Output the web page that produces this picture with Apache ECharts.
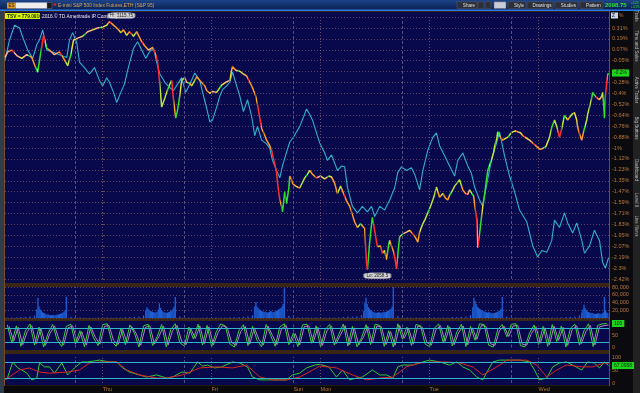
<!DOCTYPE html>
<html><head><meta charset="utf-8">
<script src="https://cdn.jsdelivr.net/npm/echarts@6.0.0/dist/echarts.min.js"></script>
<style>html,body{margin:0;padding:0;background:#141414;overflow:hidden}#chart{width:640px;height:393px}</style>
</head><body><div id="chart"></div>
<script>
// ---------- DATA ----------
// time axis in hours from Thursday 00:00 (weekend compressed)
const timeMin = -21.5, timeMax = 111.5;
const dayStartHours = [0, 24, 48, 72, 96];
const sessionOpenHours = [-6, 18, 42, 66, 90];
const dayLabelHours = [0, 24, 42, 48, 72, 96];
const dayLabels = ['Thu', 'Fri', 'Sun', 'Mon', 'Tue', 'Wed'];

// right % axis
const pctMin = -2.42, pctStep = 0.1187;
const pctTickLabels = ['-2.42%','-2.3%','-2.19%','-2.07%','-1.95%','-1.83%','-1.71%','-1.59%','-1.47%','-1.35%','-1.23%','-1.12%','-1%','-0.88%','-0.76%','-0.64%','-0.52%','-0.4%','-0.28%','-0.17%','-0.05%','0.07%','0.19%','0.31%',''];

// ES futures % change [hour, %]
const esPct = [[-21.5,-0.01],[-20.9,0.05],[-20.0,0.07],[-18.9,0.01],[-17.8,-0.02],[-16.7,0.02],[-15.6,-0.01],[-15.0,-0.09],[-14.3,-0.17],[-13.7,0.02],[-13.0,0.23],[-12.3,0.09],[-11.7,0.07],[-10.6,0.02],[-9.5,0.05],[-8.6,-0.02],[-7.7,-0.10],[-7.0,0.02],[-6.4,0.18],[-5.5,0.20],[-4.4,0.22],[-3.3,0.27],[-2.2,0.29],[-1.1,0.31],[0,0.32],[0.9,0.34],[1.5,0.38],[2.2,0.35],[3.1,0.31],[4.0,0.26],[4.6,0.29],[5.3,0.23],[5.9,0.27],[6.8,0.22],[7.5,0.27],[8.4,0.18],[9.2,0.12],[10.1,0.07],[11.0,0.10],[11.7,0.02],[12.1,-0.06],[12.6,-0.31],[13.0,-0.55],[13.7,-0.45],[14.1,-0.39],[14.8,-0.30],[15.2,-0.26],[15.6,-0.47],[16.1,-0.67],[16.5,-0.58],[17.0,-0.42],[17.4,-0.26],[18.1,-0.23],[18.5,-0.28],[19.2,-0.29],[19.6,-0.32],[20.3,-0.26],[20.7,-0.22],[21.4,-0.26],[21.8,-0.28],[22.5,-0.32],[22.9,-0.37],[23.6,-0.40],[24.2,-0.38],[25.1,-0.39],[25.8,-0.34],[26.2,-0.31],[27.1,-0.28],[28.0,-0.26],[28.4,-0.15],[28.6,-0.11],[29.3,-0.15],[30.2,-0.16],[31.0,-0.19],[31.7,-0.21],[32.4,-0.28],[33.0,-0.34],[33.7,-0.43],[34.1,-0.52],[34.6,-0.67],[35.0,-0.78],[35.7,-0.86],[36.1,-0.91],[36.8,-0.97],[37.2,-1.02],[37.7,-1.13],[37.9,-1.17],[38.3,-1.26],[38.5,-1.37],[39.0,-1.56],[39.4,-1.63],[39.6,-1.69],[40.1,-1.47],[40.5,-1.60],[41.0,-1.43],[41.2,-1.30],[41.6,-1.34],[41.8,-1.38],[42.5,-1.41],[43.4,-1.43],[44.0,-1.37],[44.5,-1.32],[45.1,-1.28],[45.6,-1.24],[46.2,-1.28],[47.1,-1.32],[48.0,-1.30],[48.9,-1.33],[49.8,-1.30],[50.4,-1.31],[51.1,-1.38],[51.7,-1.49],[52.4,-1.41],[52.8,-1.43],[53.3,-1.52],[53.7,-1.57],[54.4,-1.63],[54.8,-1.69],[55.5,-1.80],[56.1,-1.86],[56.8,-1.82],[57.7,-1.87],[58.1,-2.24],[58.3,-2.32],[58.8,-2.02],[59.2,-1.83],[59.4,-1.75],[59.9,-1.89],[60.5,-2.07],[61.2,-2.06],[61.6,-2.14],[62.1,-2.11],[62.5,-2.21],[63.0,-2.04],[63.2,-2.00],[63.6,-2.06],[64.1,-2.13],[64.5,-2.24],[64.7,-2.31],[65.2,-2.05],[65.4,-1.96],[66.1,-1.93],[66.9,-1.91],[67.6,-1.89],[68.3,-1.93],[68.9,-1.97],[69.4,-2.02],[69.8,-1.91],[70.5,-1.82],[71.1,-1.76],[71.6,-1.70],[72.2,-1.63],[72.7,-1.56],[73.1,-1.50],[73.5,-1.42],[74.2,-1.53],[74.9,-1.49],[75.5,-1.54],[76.0,-1.56],[76.4,-1.51],[77.1,-1.45],[77.5,-1.41],[78.0,-1.38],[78.6,-1.34],[79.3,-1.45],[79.9,-1.49],[80.4,-1.50],[80.8,-1.45],[81.2,-1.45],[81.7,-1.52],[81.9,-1.60],[82.4,-1.78],[82.6,-2.08],[83.0,-1.93],[83.5,-1.71],[84.1,-1.50],[84.8,-1.24],[85.2,-1.18],[85.6,-1.13],[86.1,-1.04],[86.3,-0.98],[86.8,-0.89],[87.0,-0.82],[87.6,-0.88],[88.1,-0.91],[88.7,-0.89],[89.2,-0.88],[89.8,-0.84],[90.3,-0.82],[90.9,-0.81],[91.4,-0.82],[92.0,-0.83],[92.5,-0.86],[93.4,-0.89],[94.0,-0.91],[94.7,-0.94],[95.6,-0.98],[96.3,-1.01],[96.9,-1.00],[97.6,-0.98],[98.0,-0.96],[98.4,-0.88],[98.9,-0.77],[99.5,-0.69],[100.0,-0.76],[100.6,-0.88],[101.1,-0.78],[101.7,-0.64],[102.4,-0.69],[102.8,-0.67],[103.3,-0.63],[103.9,-0.61],[104.4,-0.69],[104.6,-0.77],[105.0,-0.84],[105.5,-0.91],[105.9,-0.82],[106.6,-0.69],[106.8,-0.63],[107.2,-0.55],[107.7,-0.45],[107.9,-0.39],[108.3,-0.42],[108.8,-0.45],[109.4,-0.47],[109.9,-0.43],[110.1,-0.39],[110.3,-0.50],[110.5,-0.67],[110.7,-0.43],[111.0,-0.28],[111.2,-0.20],[111.4,-0.18]];

// comparison symbol (cyan) % change [hour, %]
const cmpPct = [[-21.5,-0.04],[-20.5,0.18],[-19.4,0.34],[-18.3,0.31],[-17.6,0.21],[-16.5,0.07],[-15.4,-0.02],[-14.5,0.13],[-13.9,0.18],[-13.2,0.29],[-12.3,0.07],[-11.0,0.05],[-9.5,0.02],[-7.9,-0.01],[-7.3,0.18],[-6.6,0.26],[-5.7,0.15],[-5.1,-0.06],[-4.0,-0.12],[-2.9,-0.19],[-1.8,-0.12],[-0.7,-0.26],[0,-0.32],[0.9,-0.23],[1.5,-0.28],[2.4,-0.39],[3.1,-0.50],[4.0,-0.39],[4.8,-0.30],[5.5,-0.15],[6.2,-0.02],[6.8,0.09],[7.7,0.16],[8.6,0.07],[9.5,-0.02],[10.3,0.05],[11.2,0.09],[11.9,-0.06],[12.6,-0.19],[13.7,-0.28],[14.8,-0.34],[15.6,-0.37],[16.5,-0.30],[17.4,-0.23],[18.3,-0.39],[19.2,-0.30],[20.3,-0.18],[21.4,-0.26],[22.0,-0.39],[22.9,-0.56],[23.6,-0.71],[24.2,-0.69],[25.1,-0.55],[25.8,-0.43],[26.4,-0.36],[27.3,-0.32],[28.0,-0.28],[28.6,-0.17],[29.5,-0.32],[30.2,-0.43],[31.0,-0.60],[31.9,-0.47],[32.8,-0.65],[33.5,-0.86],[34.1,-0.76],[35.0,-0.91],[36.1,-0.95],[36.8,-1.00],[37.4,-1.13],[38.3,-1.24],[39.0,-1.32],[39.6,-1.19],[40.5,-1.04],[41.2,-0.93],[42.1,-0.87],[43.4,-0.76],[44.3,-0.65],[44.9,-0.57],[45.6,-0.63],[46.2,-0.69],[46.9,-0.80],[47.8,-0.94],[48.9,-1.05],[49.5,-1.13],[50.4,-1.07],[51.1,-1.16],[51.7,-1.24],[52.6,-1.19],[53.3,-1.20],[53.9,-1.42],[55.0,-1.63],[56.1,-1.70],[57.2,-1.63],[58.3,-1.69],[59.2,-1.63],[59.9,-1.74],[61.0,-1.63],[62.1,-1.67],[63.2,-1.56],[64.3,-1.43],[65.0,-1.26],[65.8,-1.20],[66.9,-1.24],[68.0,-1.21],[68.7,-1.28],[69.8,-1.45],[70.5,-1.24],[71.6,-1.02],[72.7,-0.88],[73.5,-0.83],[74.2,-0.97],[75.3,-1.08],[76.4,-1.19],[77.5,-1.30],[78.2,-1.13],[79.3,-1.05],[80.4,-1.19],[81.2,-1.27],[81.9,-1.42],[83.0,-1.56],[83.7,-1.63],[84.5,-1.41],[85.6,-1.13],[86.8,-0.93],[87.4,-0.82],[88.5,-1.08],[89.6,-1.30],[90.7,-1.47],[91.8,-1.67],[93.4,-1.80],[94.7,-2.06],[95.8,-2.18],[96.7,-2.11],[97.8,-2.13],[98.9,-2.00],[99.5,-1.78],[100.6,-1.86],[101.7,-1.70],[102.4,-1.81],[103.5,-1.92],[104.4,-1.81],[105.5,-2.00],[106.1,-2.14],[107.2,-2.06],[108.3,-1.89],[109.4,-2.00],[110.1,-2.24],[110.7,-2.30],[111.4,-2.19]];

const hiLabel = 'Hi: 2115.75';
const loLabel = 'Lo: 2058.5';
const lastPctLabel = '-0.2%';
const lastPrice = '2098.75';
const tsvLabel = 'TSV = 779.0916';

// volume: regular-session 15-minute bars and overnight hourly bars
const rthOpenHours = [-14.5, 9.5, 33.5, 57.5, 81.5, 105.5];
const rthVolumes = [
  [22000,52000,30000,22000,18000,15000,13000,12000,10000,9000,9000,8000,7000,7000,8000,7000,7000,8000,9000,9000,10000,11000,12000,14000,16000,20000,55000],
  [20000,28000,24000,20000,18000,17000,16000,15000,14000,15000,16000,22000,38000,26000,20000,17000,15000,14000,13000,14000,15000,16000,18000,20000,24000,30000,54000],
  [30000,41000,30000,26000,22000,20000,18000,17000,16000,16000,15000,15000,14000,16000,18000,16000,15000,16000,17000,18000,20000,22000,24000,26000,30000,36000,77000],
  [18000,40000,52000,36000,28000,24000,20000,18000,16000,15000,14000,13000,14000,15000,14000,13000,14000,15000,16000,15000,16000,18000,20000,22000,24000,30000,80000],
  [28000,52000,44000,36000,30000,26000,24000,22000,20000,18000,17000,16000,15000,14000,15000,14000,13000,12000,12000,13000,14000,15000,16000,18000,20000,24000,54000],
  [14000,22000,34000,26000,20000,17000,15000,14000,13000,12000,12000,11000,10000,11000,12000,12000,11000,10000,12000,14000,54000,18000,14000,12000]
];
const overnightStartHours = [-21, -7, 17, 41, 65, 89];
const overnightVolumes = [
  [1200,1500,1800,2400,3000,3600,6000],
  [3500,1800,1200,1000,900,800,1100,1400,1300,1200,1100,1500,2000,2500,3000,3600,6500],
  [4000,2000,1400,1100,900,800,1200,1600,1500,1300,1200,1700,2200,2800,3200,4000,7000],
  [5000,2500,1800,1300,1000,900,1100,1500,1400,1200,1100,1600,2400,3000,3400,4200,7500],
  [4200,2000,1500,1200,1000,900,1200,1500,1400,1300,1200,1600,2300,2900,3300,4100,7200],
  [3800,1900,1400,1100,900,800,1100,1400,1300,1200,1100,1500,2100,2700,3100,3900,6800]
];

// fast stochastic (hourly from osc1Start)
const osc1Start = -21;
const osc1K = [95,20,90,5,70,98,10,85,2,60, 96,30,4,88,97,15,70,3,92,40, 8,95,99,25,5,80,12,94,60,2, 90,97,8,45,96,3,75,99,20,6, 85,35,97,10,92,4,65,98,90,15, 2,70,95,8,88,30,3,96,50,5, 85,99,12,60,4,94,97,18,90,2, 75,96,10,55,98,6,88,3,40,95, 12,97,92,5,70,2,99,35,85,8, 96,90,15,3,80,98,20,92,6,65, 97,4,88,30,99,95,10,2,75,96, 45,97,99,8,3,60,94,12,88,5, 96,25,90,2,80,97,10,70,99,4, 92,98,100];
const osc1D = [88,26,84,12,66,91,16,79,9,58, 90,34,10,82,90,21,66,10,86,42, 14,88,92,30,12,75,18,87,58,9, 84,90,14,46,89,10,71,92,25,12, 79,38,90,16,86,11,62,91,84,21, 9,66,88,14,82,34,10,89,50,12, 79,92,18,58,11,87,90,23,84,9, 71,89,16,54,91,12,82,10,42,88, 18,90,86,12,66,9,92,38,79,14, 89,84,21,10,75,91,25,86,12,62, 90,11,82,34,92,88,16,9,71,89, 46,90,92,14,10,58,87,18,82,12, 89,30,84,9,75,90,16,66,92,11, 86,91,94];

// slow oscillator [hour, value]
const osc2Fast = [[-21.5,12],[-20.9,23],[-19.8,81],[-18.7,58],[-17.8,50],[-16.7,38],[-15.6,12],[-14.5,19],[-13.9,77],[-12.8,62],[-11.7,62],[-10.6,38],[-9.0,77],[-7.7,31],[-6.2,58],[-4.6,81],[-3.3,81],[-0.7,88],[1.5,81],[3.1,81],[4.4,58],[5.9,42],[8.1,31],[9.7,23],[11.9,31],[14.1,19],[15.4,23],[17.4,42],[19.2,38],[20.9,81],[22.0,65],[23.1,69],[24.7,58],[26.2,62],[28.6,81],[30.2,77],[31.9,62],[33.0,23],[34.6,12],[36.1,12],[37.4,12],[39.0,12],[40.5,12],[41.8,31],[43.4,38],[44.9,58],[46.7,69],[47.8,72],[49.8,62],[51.5,23],[52.8,50],[54.4,12],[55.9,19],[57.2,23],[59.4,50],[61.0,31],[62.5,31],[63.9,19],[65.0,62],[66.1,69],[68.3,69],[70.5,81],[72.0,88],[74.2,81],[76.4,69],[78.0,81],[79.3,62],[80.8,50],[82.4,23],[83.7,12],[84.5,38],[85.9,81],[87.4,88],[89.6,88],[91.8,88],[94.0,81],[95.1,50],[96.2,12],[97.8,19],[99.1,62],[100.6,77],[102.1,81],[103.5,69],[105.5,50],[106.8,81],[108.3,77],[109.4,58],[110.5,81],[111.4,67.0958]];
const osc2Slow = [[-21.5,12],[-18.3,50],[-16.1,58],[-13.9,42],[-11.7,38],[-7.9,42],[-5.1,50],[-2.9,77],[-0.7,81],[3.1,81],[5.3,50],[8.1,31],[11.9,19],[14.1,19],[17.6,31],[21.4,58],[25.1,62],[28.6,58],[31.7,69],[34.6,23],[37.4,12],[40.5,12],[43.4,23],[47.1,58],[47.8,65],[51.5,58],[55.0,31],[58.1,12],[61.0,19],[63.9,23],[66.9,62],[69.8,77],[72.7,81],[75.8,81],[78.6,77],[81.5,62],[83.7,31],[86.8,62],[89.0,88],[93.4,88],[95.6,69],[97.8,23],[100.0,50],[102.1,69],[105.7,62],[107.9,62],[110.5,77],[111.4,75]];
const oscLevels = [80, 20];

// ---------- BUILD ----------
const volBars = [];
rthOpenHours.forEach((h0, s) => rthVolumes[s].forEach((v, i) => volBars.push([h0 + 0.25 * i, v])));
overnightStartHours.forEach((h0, s) => overnightVolumes[s].forEach((v, i) => volBars.push([h0 + i, v])));
const osc1KData = osc1K.map((v, i) => [osc1Start + i, v]);
const osc1DData = osc1D.map((v, i) => [osc1Start + i + 0.4, v]);

const FONT = 'Liberation Sans, Arial, sans-serif';
const AXIS_TXT = '#b8773c';

// price line colour: hard-stop gradient coloured by each segment's direction, speckled like the bar colouring
const upStrong = '#2fe02f', upMild = '#b6e63a', flatA = '#f0dc3a', flatB = '#ffb08a', dnMild = '#ff9a22', dnStrong = '#ff2e2e';
const altColor = {};
altColor[upStrong] = '#e6e23a'; altColor[upMild] = '#2fd83a'; altColor[flatA] = '#ff7a2a';
altColor[flatB] = '#38d838'; altColor[dnMild] = '#ff3434'; altColor[dnStrong] = '#ffb020';
const h0 = esPct[0][0], hSpan = esPct[esPct.length - 1][0] - h0;
const stops = [];
for (let i = 1; i < esPct.length; i++) {
  const a = esPct[i - 1], b = esPct[i];
  const s = (b[1] - a[1]) / (b[0] - a[0]);
  const c = s > 0.2 ? upStrong : s > 0.04 ? upMild : s < -0.2 ? dnStrong : s < -0.04 ? dnMild : (i % 2 ? flatA : flatB);
  const o1 = (a[0] - h0) / hSpan, o2 = (b[0] - h0) / hSpan, om = o1 + (o2 - o1) * 0.6;
  stops.push({offset: o1, color: c}, {offset: om, color: c});
  const c2 = (i % 3 === 0) ? altColor[c] : c;
  stops.push({offset: om, color: c2}, {offset: o2, color: c2});
}
const priceGradient = new echarts.graphic.LinearGradient(0, 0, 1, 0, stops);

function dayLines() {
  return dayStartHours.map(h => ({xAxis: h, lineStyle: {color: '#6e4c66', type: [1, 2], width: 1}}))
    .concat(sessionOpenHours.map(h => ({xAxis: h, lineStyle: {color: '#4e5280', type: [3, 2], width: 1}})));
}
function levelLines() {
  return oscLevels.map(v => ({yAxis: v, lineStyle: {color: '#2fb6c9', type: 'solid', width: 1}}));
}
function guideSeries(idx, extra) {
  return {type: 'line', xAxisIndex: idx, yAxisIndex: idx, data: [], z: 1, silent: true,
    markLine: {silent: true, symbol: ['none', 'none'], label: {show: false}, animation: false,
      data: dayLines().concat(extra || [])}};
}
function lastBox(text) {
  return {silent: true, symbol: ['none', 'none'], animation: false,
    lineStyle: {color: 'rgba(0,0,0,0)', width: 0, type: 'solid'},
    label: {show: true, position: 'end', distance: 3, formatter: text, backgroundColor: '#1ed41e', color: '#052a05',
      fontSize: 5, fontFamily: FONT, padding: [1, 2]}};
}

const L = 5, W = 604;
const grids = [
  {left: L, width: W, top: 17.1, height: 261.9},
  {left: L, width: W, top: 287, height: 31},
  {left: L, width: W, top: 323.5, height: 24},
  {left: L, width: W, top: 357, height: 26}
].map(g => Object.assign(g, {containLabel: false, outerBoundsMode: 'none'}));

function xAx(i, extra) {
  return Object.assign({gridIndex: i, type: 'value', min: timeMin, max: timeMax,
    axisLine: {show: false}, axisTick: {show: false}, splitLine: {show: false}, axisLabel: {show: false}}, extra || {});
}
const yLabelBase = {color: AXIS_TXT, fontSize: 5.5, fontFamily: FONT, margin: 3};

const g = [];
// backgrounds
g.push({type: 'rect', z: -20, shape: {x: 0, y: 0, width: 640, height: 10},
  style: {fill: new echarts.graphic.LinearGradient(0, 0, 0, 1, [{offset: 0, color: '#1d4488'}, {offset: 1, color: '#0a1f50'}])}});
g.push({type: 'rect', z: -19, shape: {x: 0, y: 9.5, width: 640, height: 1.5}, style: {fill: '#2a7ae8'}});
g.push({type: 'rect', z: -20, shape: {x: 0, y: 11, width: 4, height: 382}, style: {fill: '#2e3c4c'}});
g.push({type: 'rect', z: -20, shape: {x: 609, y: 11, width: 24, height: 382}, style: {fill: '#0b0b0f'}});
g.push({type: 'rect', z: -20, shape: {x: 4, y: 11, width: 605, height: 376}, style: {fill: '#3a2614'}});
[[12, 271], [287, 31], [321, 29], [354, 31]].forEach(p => {
  g.push({type: 'rect', z: -15, shape: {x: 5, y: p[0], width: 604, height: p[1]}, style: {fill: '#07094c'}});
});
g.push({type: 'rect', z: -15, shape: {x: 4, y: 385.5, width: 605, height: 8}, style: {fill: '#0a0a0a'}});
g.push({type: 'line', z: -10, shape: {x1: 609.5, y1: 11, x2: 609.5, y2: 386}, style: {stroke: '#7a4a22', lineWidth: 1}});
g.push({type: 'line', z: -10, shape: {x1: 4.5, y1: 11, x2: 4.5, y2: 386}, style: {stroke: '#7a4a22', lineWidth: 1}});
// sidebar
g.push({type: 'rect', z: -20, shape: {x: 633, y: 11, width: 7, height: 382}, style: {fill: '#222'}});
[['Trade', 16], ['Time and Sales', 46], ['Active Trader', 90], ['Big Buttons', 128], ['Dashboard', 170], ['Level II', 200], ['Live News', 226]].forEach(t => {
  g.push({type: 'text', z: 50, x: 636.5, y: t[1], rotation: -Math.PI / 2,
    style: {text: t[0], fontSize: 4.5, fontFamily: FONT, fill: '#bdbdbd', align: 'center', verticalAlign: 'middle'}});
});
// header
g.push({type: 'rect', z: 50, shape: {x: 7, y: 2.5, width: 9, height: 6}, style: {fill: '#d89a2c'}});
g.push({type: 'text', z: 51, x: 8.5, y: 5.6, style: {text: 'ES', fontSize: 4.5, fontFamily: FONT, fill: '#3a2000', verticalAlign: 'middle'}});
g.push({type: 'rect', z: 50, shape: {x: 16, y: 2.5, width: 31, height: 6}, style: {fill: '#eeeeee'}});
g.push({type: 'rect', z: 50, shape: {x: 47, y: 2.5, width: 5, height: 6}, style: {fill: '#1a1a1a', stroke: '#777', lineWidth: 0.5}});
g.push({type: 'circle', z: 50, shape: {cx: 55, cy: 4.5, r: 1.3}, style: {fill: '#e02020'}});
g.push({type: 'text', z: 51, x: 58, y: 5.6, style: {text: 'E-mini S&P 500 Index Futures,ETH (S&P 95)', fontSize: 4.8, fontFamily: FONT, fill: '#d9a45a', verticalAlign: 'middle'}});
[['Share', 457, 20], ['', 478, 6], ['', 485, 6], ['', 494, 12], ['Style', 508, 18], ['Drawings', 527, 26], ['Studies', 555, 23], ['Pattern', 580, 23]].forEach((b, i) => {
  g.push({type: 'rect', z: 50, shape: {x: b[1], y: 1.8, width: b[2], height: 6.8},
    style: {fill: i === 3 ? '#c9ccd6' : '#2c2e38', stroke: '#5a5d6a', lineWidth: 0.5}});
  if (b[0]) g.push({type: 'text', z: 51, x: b[1] + b[2] / 2 + 2, y: 5.3,
    style: {text: b[0], fontSize: 4.6, fontFamily: FONT, fill: '#e0e0e0', align: 'center', verticalAlign: 'middle'}});
});
g.push({type: 'text', z: 51, x: 605, y: 5.5, style: {text: lastPrice, fontSize: 6, fontWeight: 'bold', fontFamily: FONT, fill: '#2fe02f', verticalAlign: 'middle'}});
g.push({type: 'text', z: 51, x: 631, y: 3.3, style: {text: '+0.25', fontSize: 3, fontFamily: FONT, fill: '#2fe02f', verticalAlign: 'middle'}});
g.push({type: 'text', z: 51, x: 631, y: 7.3, style: {text: '+.01%', fontSize: 3, fontFamily: FONT, fill: '#2fe02f', verticalAlign: 'middle'}});
// in-chart legend
g.push({type: 'rect', z: 60, shape: {x: 5, y: 13, width: 35, height: 6}, style: {fill: '#d6f200'}});
g.push({type: 'text', z: 61, x: 7, y: 16.2, style: {text: tsvLabel, fontSize: 4.8, fontWeight: 'bold', fontFamily: FONT, fill: '#213000', verticalAlign: 'middle'}});
g.push({type: 'text', z: 61, x: 42, y: 16.2, style: {text: '2016 © TD Ameritrade IP Company', fontSize: 4.8, fontFamily: FONT, fill: '#e6e6e6', verticalAlign: 'middle'}});
g.push({type: 'rect', z: 60, shape: {x: 611, y: 12.5, width: 7, height: 6}, style: {fill: '#d0d4e0'}});
g.push({type: 'text', z: 61, x: 612, y: 15.6, style: {text: 'Z', fontSize: 5, fontWeight: 'bold', fontFamily: FONT, fill: '#204080', verticalAlign: 'middle'}});
g.push({type: 'text', z: 61, x: 619, y: 15.6, style: {text: '%', fontSize: 5, fontFamily: FONT, fill: AXIS_TXT, verticalAlign: 'middle'}});

const option = {
  animation: false,
  backgroundColor: '#141414',
  textStyle: {fontFamily: FONT},
  grid: grids,
  xAxis: [xAx(0), xAx(1), xAx(2), xAx(3, {axisLabel: {show: true, customValues: dayLabelHours,
    formatter: v => { const k = dayLabelHours.indexOf(v); return k >= 0 ? dayLabels[k] : ''; },
    color: AXIS_TXT, fontSize: 5.5, fontFamily: FONT, margin: 3, align: 'left'}})],
  yAxis: [
    {gridIndex: 0, type: 'value', position: 'right', min: pctMin, max: pctMin + 24 * pctStep, interval: pctStep,
      axisLine: {show: false}, axisTick: {show: true, length: 2, lineStyle: {color: '#7a4a22'}},
      splitLine: {show: true, lineStyle: {color: '#5e4262', type: [1, 2], width: 1}},
      axisLabel: Object.assign({}, yLabelBase, {showMaxLabel: true, showMinLabel: true,
        formatter: v => pctTickLabels[Math.round((v - pctMin) / pctStep)] || ''})},
    {gridIndex: 1, type: 'value', position: 'right', min: 0, max: 80000, interval: 20000,
      axisLine: {show: false}, axisTick: {show: false},
      splitLine: {show: true, lineStyle: {color: '#5e4262', type: [1, 2], width: 1}},
      axisLabel: Object.assign({}, yLabelBase, {formatter: v => v === 0 ? '' : v.toLocaleString('en-US')})},
    {gridIndex: 2, type: 'value', position: 'right', min: 0, max: 100, interval: 50,
      axisLine: {show: false}, axisTick: {show: false}, splitLine: {show: false},
      axisLabel: Object.assign({}, yLabelBase, {formatter: v => v === 100 ? '' : String(v)})},
    {gridIndex: 3, type: 'value', position: 'right', min: 0, max: 100, interval: 50,
      axisLine: {show: false}, axisTick: {show: false}, splitLine: {show: false},
      axisLabel: Object.assign({}, yLabelBase, {formatter: v => String(v)})}
  ],
  graphic: {elements: g},
  series: [
    guideSeries(0),
    {name: 'Compare', type: 'line', xAxisIndex: 0, yAxisIndex: 0, data: cmpPct, showSymbol: false, z: 3,
      lineStyle: {color: '#2fb0cc', width: 1.1}},
    {name: 'ES', type: 'line', xAxisIndex: 0, yAxisIndex: 0, data: esPct, showSymbol: false, z: 4,
      lineStyle: {color: priceGradient, width: 1.5},
      markPoint: {silent: true, symbol: 'roundRect', symbolSize: [27, 6], animation: false,
        itemStyle: {color: '#cfd0d4', borderColor: '#8a8a8a', borderWidth: 0.5},
        label: {show: true, color: '#1a1a1a', fontSize: 4.6, fontFamily: FONT, formatter: p => p.name},
        data: [{type: 'max', name: hiLabel, symbolOffset: [12, -6]}, {type: 'min', name: loLabel, symbolOffset: [10, 6]}]},
      markLine: Object.assign(lastBox(lastPctLabel), {data: [{yAxis: esPct[esPct.length - 1][1]}]})},
    guideSeries(1),
    {name: 'Volume', type: 'bar', xAxisIndex: 1, yAxisIndex: 1, data: volBars, barWidth: 1.3, z: 3,
      itemStyle: {color: '#1e5fd4'}},
    guideSeries(2, levelLines()),
    {name: 'StochD', type: 'line', xAxisIndex: 2, yAxisIndex: 2, data: osc1DData, showSymbol: false, z: 3,
      lineStyle: {color: '#c078c8', width: 1}},
    {name: 'StochK', type: 'line', xAxisIndex: 2, yAxisIndex: 2, data: osc1KData, showSymbol: false, z: 4,
      lineStyle: {color: '#34d434', width: 1},
      markLine: Object.assign(lastBox('100'), {data: [{yAxis: osc1K[osc1K.length - 1]}]})},
    guideSeries(3, levelLines()),
    {name: 'OscFast', type: 'line', xAxisIndex: 3, yAxisIndex: 3, data: osc2Fast, showSymbol: false, z: 3,
      lineStyle: {color: '#2ecc2e', width: 1},
      markLine: Object.assign(lastBox(String(osc2Fast[osc2Fast.length - 1][1])), {data: [{yAxis: osc2Fast[osc2Fast.length - 1][1]}]})},
    {name: 'OscSlow', type: 'line', xAxisIndex: 3, yAxisIndex: 3, data: osc2Slow, showSymbol: false, z: 4,
      lineStyle: {color: '#e02222', width: 1}}
  ]
};
const chart = echarts.init(document.getElementById('chart'), null, {renderer: 'canvas', width: 640, height: 393});
chart.setOption(option);
</script></body></html>
